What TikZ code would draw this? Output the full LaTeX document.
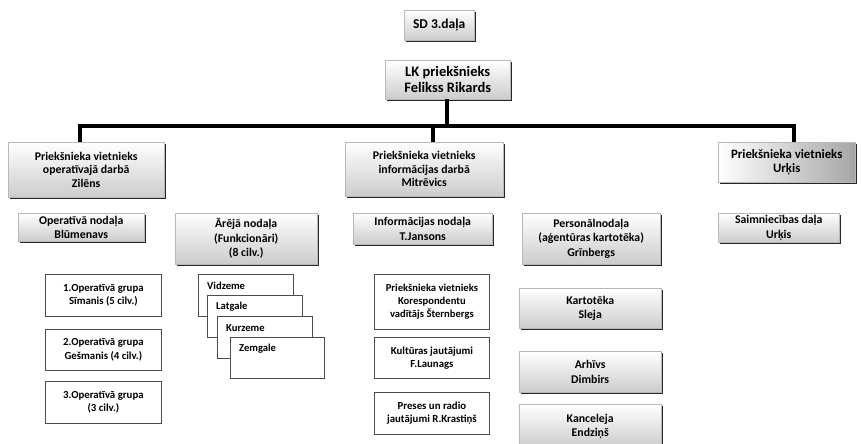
\documentclass[tikz,border=0pt]{standalone}
\usepackage{fontspec}
\setmainfont{Carlito}
\usetikzlibrary{shadows}
\begin{document}
\begin{tikzpicture}[x=1pt,y=-1pt,
  base/.style={anchor=north west, inner sep=0pt, align=center, font=\bfseries},
  gbox/.style={base, draw=gray!55, top color=white, bottom color=gray!40,
    drop shadow={shadow xshift=2.2pt, shadow yshift=-2.2pt, opacity=1, fill=black!85, shadow scale=1}},
  hbox/.style={base, draw=gray!55, left color=white, right color=gray!70,
    drop shadow={shadow xshift=2.2pt, shadow yshift=-2.2pt, opacity=1, fill=black!85, shadow scale=1}},
  wbox/.style={base, draw=gray!60!black, fill=white, line width=0.8pt},
  conn/.style={line width=3.6pt, black},
  lbl/.style={anchor=west, inner sep=0pt, font=\bfseries\fontsize{10.6}{12}\selectfont},
  ftop/.style={font=\bfseries\fontsize{11.8}{13.5}\selectfont},
  fmid/.style={font=\bfseries\fontsize{11.8}{14.5}\selectfont},
  fsm/.style={font=\bfseries\fontsize{10.8}{13.5}\selectfont}
]
\clip (0,0) rectangle (862,444);
\useasboundingbox (0,0) rectangle (862,444);
\fill[white] (0,0) rectangle (862,444);

% top
\node[gbox, minimum width=70pt, minimum height=30pt, font=\bfseries\fontsize{13.5}{15}\selectfont] (sd) at (404,10) {SD 3.daļa};
\node[gbox, minimum width=125pt, minimum height=39pt, font=\bfseries\fontsize{14.5}{16.5}\selectfont] (lk) at (385,60) {LK priekšnieks\\Felikss Rikards};

% deputies
\node[gbox, minimum width=156pt, minimum height=55pt, ftop] (zil) at (8,142) {Priekšnieka vietnieks\\operatīvajā darbā\\Zilēns};
\node[gbox, minimum width=158pt, minimum height=54pt, ftop] (mit) at (345,142) {Priekšnieka vietnieks\\informācijas darbā\\Mitrēvics};
\node[hbox, minimum width=137pt, minimum height=40pt, font=\bfseries\fontsize{12.8}{14.5}\selectfont] (urk) at (718,142) {Priekšnieka vietnieks\\Urķis};

% connectors
\coordinate (hl) at (80,126);
\coordinate (hm) at (433,126);
\coordinate (hr) at (794,126);
\coordinate (hk) at (447,126);
\draw[conn] (lk.south -| hk) -- (hk);
\draw[conn, line join=miter] (zil.north -| hl) -- (hl) -- (hr) -- (urk.north -| hr);
\draw[conn] (hm) -- (mit.north -| hm);

% departments
\node[gbox, minimum width=126pt, minimum height=28pt, fmid] (opn) at (18,213) {Operatīvā nodaļa\\Blūmenavs};
\node[gbox, minimum width=142pt, minimum height=51pt, fmid] (arj) at (175,213) {Ārējā nodaļa\\(Funkcionāri)\\(8 cilv.)};
\node[gbox, minimum width=139pt, minimum height=31pt, fmid] (inf) at (353,213) {Informācijas nodaļa\\T.Jansons};
\node[gbox, minimum width=138pt, minimum height=51pt, fmid] (per) at (522,213) {Personālnodaļa\\(aģentūras kartotēka)\\Grīnbergs};
\node[gbox, minimum width=121pt, minimum height=29pt, fmid] (sai) at (718,213) {Saimniecības daļa\\Urķis};

% operative groups
\node[wbox, minimum width=116pt, minimum height=42pt, fsm] (g1) at (45,274) {1.Operatīvā grupa\\Sīmanis (5 cilv.)};
\node[wbox, minimum width=116pt, minimum height=41pt, fsm] (g2) at (45,329) {2.Operatīvā grupa\\Gešmanis (4 cilv.)};
\node[wbox, minimum width=116pt, minimum height=42pt, fsm] (g3) at (45,381) {3.Operatīvā grupa\\(3 cilv.)};

% regions (stacked)
\node[wbox, minimum width=95pt, minimum height=42pt] (vid) at (198,274) {};
\node[lbl] at ([xshift=9pt,yshift=-12pt]vid.north west) {Vidzeme};
\node[wbox, minimum width=95pt, minimum height=42pt] (lat) at (207,295) {};
\node[lbl] at ([xshift=9pt,yshift=-12pt]lat.north west) {Latgale};
\node[wbox, minimum width=95pt, minimum height=42pt] (kur) at (217,316) {};
\node[lbl] at ([xshift=9pt,yshift=-12pt]kur.north west) {Kurzeme};
\node[wbox, minimum width=94pt, minimum height=41pt] (zem) at (230,337) {};
\node[lbl] at ([xshift=9pt,yshift=-12pt]zem.north west) {Zemgale};

% information subgroups
\node[wbox, minimum width=115pt, minimum height=55pt, font=\bfseries\fontsize{10.6}{12.8}\selectfont] (kor) at (374,274) {Priekšnieka vietnieks\\Korespondentu\\vadītājs Šternbergs};
\node[wbox, minimum width=115pt, minimum height=41pt, fsm] (kul) at (374,337) {Kultūras jautājumi\\F.Launags};
\node[wbox, minimum width=115pt, minimum height=42pt, fsm] (pre) at (374,392) {Preses un radio\\jautājumi R.Krastiņš};

% personnel subunits
\node[gbox, minimum width=142pt, minimum height=40pt, fmid] (kar) at (519,288) {Kartotēka\\Sleja};
\node[gbox, minimum width=142pt, minimum height=41pt, fmid] (arh) at (519,351) {Arhīvs\\Dimbirs};
\node[gbox, minimum width=142pt, minimum height=44pt, fmid] (kan) at (519,404) {Kanceleja\\Endziņš};
\end{tikzpicture}
\end{document}
